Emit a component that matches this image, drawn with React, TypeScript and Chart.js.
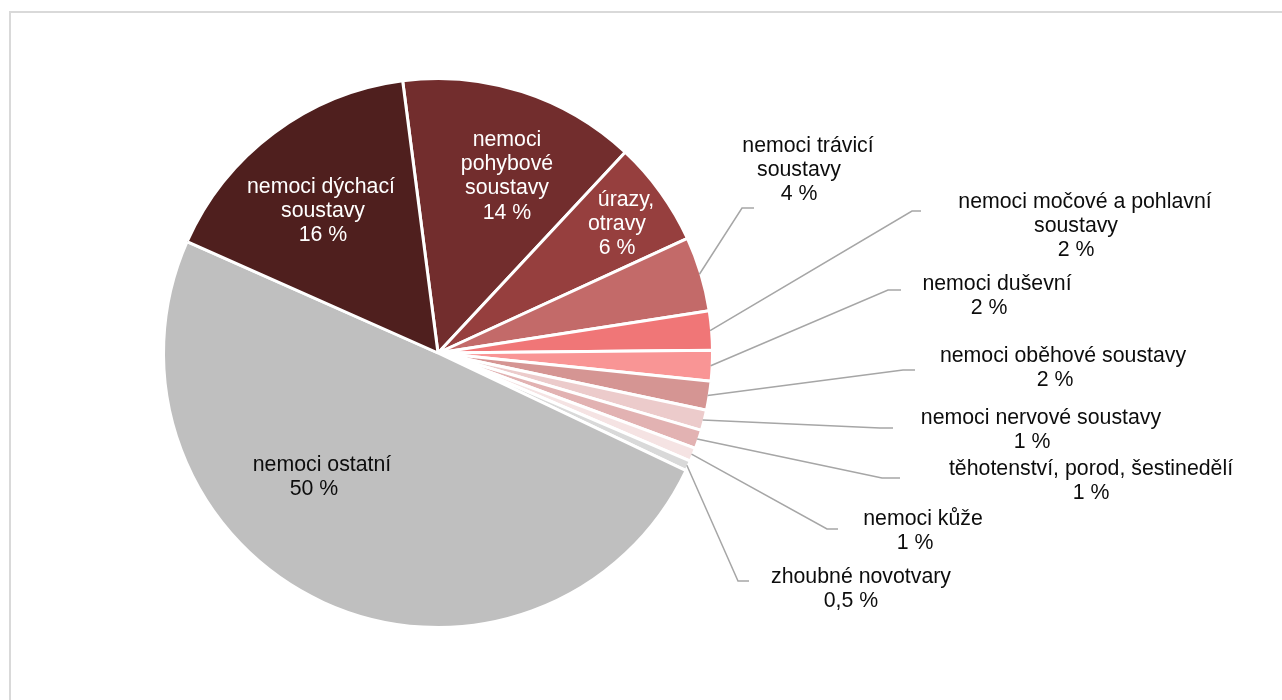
import React, { useEffect, useRef } from "react";
import { Chart, ArcElement, PieController } from "chart.js";

Chart.register(ArcElement, PieController);

// ---- data ----
const categories: string[] = [
  "nemoci\npohybové\nsoustavy",
  "úrazy,\notravy",
  "nemoci trávicí\nsoustavy",
  "nemoci močové a pohlavní\nsoustavy",
  "nemoci duševní",
  "nemoci oběhové soustavy",
  "nemoci nervové soustavy",
  "těhotenství, porod, šestinedělí",
  "nemoci kůže",
  "zhoubné novotvary",
  "nemoci ostatní",
  "nemoci dýchací\nsoustavy",
];
const values: number[] = [14.0, 6.2, 4.4, 2.3, 1.8, 1.7, 1.2, 1.1, 0.8, 0.6, 49.6, 16.3];
const valueLabels: string[] = ["14 %", "6 %", "4 %", "2 %", "2 %", "2 %", "1 %", "1 %", "1 %", "0,5 %", "50 %", "16 %"];

// ---- styles ----
const sliceColors: string[] = [
  "#722d2d", "#963f3e", "#c36a69", "#f07677", "#f99595", "#d59593",
  "#eccbcb", "#e2b2b2", "#f5e3e3", "#d9d9d9", "#bfbfbf", "#4f1f1e",
];
const textColors: string[] = [
  "#ffffff", "#ffffff", "#0d0d0d", "#0d0d0d", "#0d0d0d", "#0d0d0d",
  "#0d0d0d", "#0d0d0d", "#0d0d0d", "#0d0d0d", "#0d0d0d", "#ffffff",
];
const FONT = '21.3px "Liberation Sans", Arial, sans-serif';
const LINE_H = 24.3;

// label block positions relative to the pie centre (x = centre of lines, y = first line, shift = first line extra x)
const labelLayout = [
  { dx: 69, dy: -213, shift: 0 },
  { dx: 179, dy: -153, shift: 9 },
  { dx: 361, dy: -207, shift: 9 },
  { dx: 638, dy: -151, shift: 9 },
  { dx: 551, dy: -69, shift: 8 },
  { dx: 617, dy: 3, shift: 8 },
  { dx: 594, dy: 65, shift: 9 },
  { dx: 653, dy: 116, shift: 0 },
  { dx: 477, dy: 166, shift: 8 },
  { dx: 413, dy: 224, shift: 10 },
  { dx: -124, dy: 112, shift: 8 },
  { dx: -115, dy: -166, shift: -2 },
];
// leader elbows relative to the pie centre
const leaderLayout: ({ dx: number; dy: number; len: number } | null)[] = [
  null,
  null,
  { dx: 304, dy: -145, len: 12 },
  { dx: 474, dy: -142, len: 9 },
  { dx: 450, dy: -63, len: 13 },
  { dx: 465, dy: 17, len: 12 },
  { dx: 442, dy: 75, len: 13 },
  { dx: 444, dy: 125, len: 18 },
  { dx: 389, dy: 176, len: 11 },
  { dx: 300, dy: 228, len: 11 },
  null,
  null,
];

const labelPlugin = {
  id: "pieLabels",
  beforeDraw(chart: any) {
    const ctx = chart.ctx;
    ctx.save();
    ctx.fillStyle = "#ffffff";
    ctx.fillRect(0, 0, chart.width, chart.height);
    ctx.strokeStyle = "#d9d9d9";
    ctx.lineWidth = 2;
    ctx.strokeRect(10, 12, chart.width + 100, chart.height + 100);
    ctx.restore();
  },
  afterDatasetsDraw(chart: any) {
    const ctx = chart.ctx;
    const meta = chart.getDatasetMeta(0);
    ctx.save();
    meta.data.forEach((arc: any, i: number) => {
      const p = arc.getProps(["x", "y", "startAngle", "endAngle", "outerRadius"], true);
      const lead = leaderLayout[i];
      if (lead) {
        const mid = (p.startAngle + p.endAngle) / 2;
        const r = p.outerRadius - 1.5;
        ctx.beginPath();
        ctx.moveTo(p.x + Math.cos(mid) * r, p.y + Math.sin(mid) * r);
        ctx.lineTo(p.x + lead.dx, p.y + lead.dy);
        ctx.lineTo(p.x + lead.dx + lead.len, p.y + lead.dy);
        ctx.strokeStyle = "#a6a6a6";
        ctx.lineWidth = 1.5;
        ctx.stroke();
      }
      const lay = labelLayout[i];
      const lines = categories[i].split("\n").concat([valueLabels[i]]);
      ctx.font = FONT;
      ctx.fillStyle = textColors[i];
      ctx.textAlign = "center";
      ctx.textBaseline = "middle";
      lines.forEach((ln, k) => {
        const x = p.x + lay.dx + (k === 0 ? lay.shift : 0);
        const y = p.y + lay.dy + k * LINE_H;
        ctx.fillText(ln, x, y);
      });
    });
    ctx.restore();
  },
};

export default function App() {
  const ref = useRef<HTMLCanvasElement | null>(null);
  useEffect(() => {
    document.body.style.margin = "0";
    document.body.style.overflow = "hidden";
    if (!ref.current) return;
    const chart = new Chart(ref.current, {
      type: "pie",
      data: {
        labels: categories.map((c) => c.replace(/\n/g, " ")),
        datasets: [
          {
            data: values,
            backgroundColor: sliceColors,
            borderColor: "#ffffff",
            borderWidth: 3,
          },
        ],
      },
      options: {
        animation: false,
        responsive: true,
        maintainAspectRatio: false,
        rotation: -7.4,
        radius: 274.5,
        layout: { padding: { left: 0, right: 406, top: 58, bottom: 52 } },
        plugins: {
          legend: { display: false },
          tooltip: { enabled: false },
        },
        events: [],
      } as any,
      plugins: [labelPlugin],
    });
    return () => chart.destroy();
  }, []);
  return (
    <div style={{ width: 1282, height: 700, position: "relative", overflow: "hidden" }}>
      <canvas ref={ref} />
    </div>
  );
}
